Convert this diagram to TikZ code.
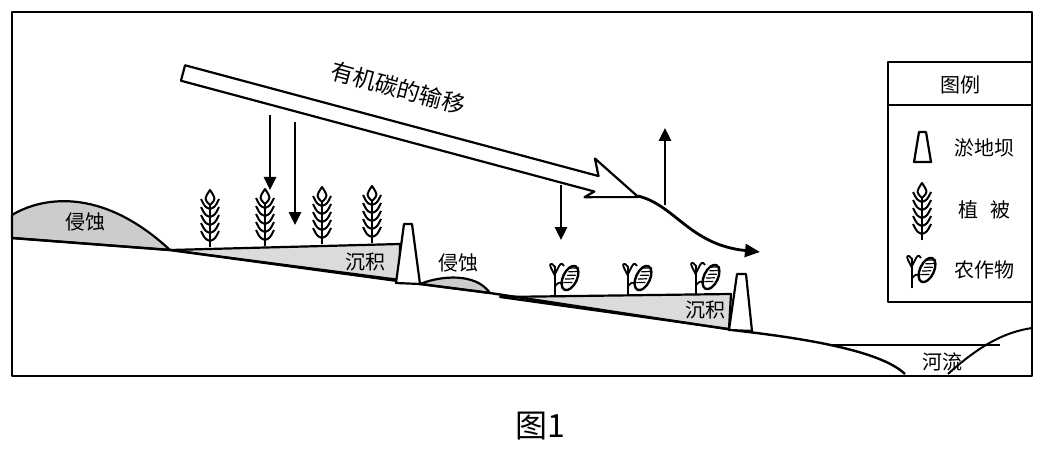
\documentclass[tikz,border=0pt]{standalone}
\usepackage{fontspec}
\setmainfont{Noto Sans CJK SC}
\usetikzlibrary{arrows.meta}
\begin{document}
\begin{tikzpicture}[x=1pt,y=-1pt,line join=round,
  lbl/.style={font=\fontsize{20}{20}\selectfont,inner sep=1pt},
  darr/.style={line width=2.6pt,-{Triangle[length=13pt,width=12pt]}},
  soil/.style={fill=gray!40,draw=black,line width=2.2pt},
  depo/.style={fill=gray!28,draw=black,line width=2.2pt},
  dam/.style={fill=white,draw=black,line width=2.2pt},
  wheat/.pic={
    \draw[line width=2pt] (0,0)--(0,-44);
    \draw[line width=2pt,fill=white] (0,-42) .. controls (-6,-48) .. (0,-57) .. controls (6,-48) .. (0,-42);
    \foreach \yy in {-6,-14,-22,-30,-38}{
      \draw[line width=2pt] (0,\yy) .. controls (-5,\yy-2) .. (-9,\yy-10);
      \draw[line width=2pt] (0,\yy) .. controls (5,\yy-2) .. (9,\yy-10);
    }},
  crop/.pic={
    \draw[line width=2pt] (0,0)--(0,-30);
    \draw[line width=1.8pt] (0,-20) .. controls (-6,-32) .. (-3,-32) .. controls (0,-30) .. (0,-24);
    \draw[line width=1.8pt] (0,-22) .. controls (6,-34) .. (9,-30);
    \draw[line width=1.8pt] (0,-10) .. controls (4,-14) .. (9,-12);
    \draw[line width=2.4pt,fill=white,rotate around={-25:(15,-18)}] (15,-18) ellipse (7 and 13);
    \foreach \k in {-9,-5,-1,3,7}{\draw[line width=1.2pt,rotate around={-25:(15,-18)}] (11,-18+\k) -- (19,-22+\k);}
  }]
\useasboundingbox (0,0) rectangle (1054,449);
% ground etc
\draw[soil] (12,215) .. controls (40,198) and (100,185) .. (170,250) -- (12,238) -- cycle;
\node[lbl] (e1) at (85,222) {侵蚀};
\draw[depo] (170,250) -- (400,244) -- (400,280) -- cycle;
\node[lbl] (s1) at (365,262) {沉积};
\draw[soil] (420,284) .. controls (440,276) and (475,272) .. (490,293) -- cycle;
\node[lbl] (e2) at (458,263) {侵蚀};
\draw[depo] (500,297) -- (731,294) -- (729,329) -- cycle;
\node[lbl] (s2) at (705,310) {沉积};
\draw[line width=2.4pt] (12,238) -- (170,250) -- (420,284) -- (490,293) -- (740,331) .. controls (800,338) and (880,350) .. (905,374);
\draw[line width=2pt] (832,345) -- (1000,345);
\draw[line width=2pt] (948,374) .. controls (980,345) and (1005,332) .. (1032,328);
\node[lbl] (r) at (942,362) {河流};
\draw[dam] (396,283) -- (404,224) -- (412,224) -- (420,284) -- cycle;
\draw[dam] (729,330) -- (737,274) -- (746,274) -- (752,331) -- cycle;
% plants
\foreach \px/\py in {210/247,265/246,322/244,372/243} \pic at (\px,\py) {wheat};
\foreach \px/\py in {555/296,628/296,696/295} \pic at (\px,\py) {crop};
% big hollow arrow
\begin{scope}[shift={(183,73)},rotate=-15]
\draw[line width=2.2pt,fill=white] (0,-8) -- (428,-8) -- (420,-24) -- (472,2) -- (420,16) -- (428,8) -- (0,8) -- cycle;
\end{scope}
\node[lbl,rotate=-15,font=\fontsize{23}{23}\selectfont] (t) at (398,88) {有机碳的输移};
\coordinate (c0) at (638,196);
\coordinate (c1) at (760,252);
\draw[line width=2.8pt,-{Triangle[length=15pt,width=13pt]}] (c0) .. controls (675,205) and (690,245) .. (c1);
\coordinate (a1) at (270,115); \coordinate (b1) at (270,190);
\coordinate (a2) at (295,122); \coordinate (b2) at (295,225);
\coordinate (a3) at (561,185); \coordinate (b3) at (561,240);
\coordinate (a4) at (665,205); \coordinate (b4) at (665,128);
\draw[darr] (a1)--(b1); \draw[darr] (a2)--(b2); \draw[darr] (a3)--(b3); \draw[darr] (a4)--(b4);
% frame
\draw[line width=2.4pt] (12,12) rectangle (1032,376);
% legend
\draw[line width=2.2pt,fill=white] (888,62) rectangle (1032,302);
\draw[line width=2.2pt] (888,105) -- (1032,105);
\node[lbl] (lh) at (960,85) {图例};
\draw[dam] (914,162) -- (919,132) -- (926,132) -- (931,162) -- cycle;
\node[lbl] (l1) at (984,148) {淤地坝};
\pic at (922,240) {wheat};
\node[lbl] (l2) at (984,210) {植\hspace{0.6em}被};
\pic at (912,288) {crop};
\node[lbl] (l3) at (984,270) {农作物};
\node[font=\fontsize{32}{32}\selectfont] (cap) at (540,426) {图1};
\end{tikzpicture}
\end{document}
